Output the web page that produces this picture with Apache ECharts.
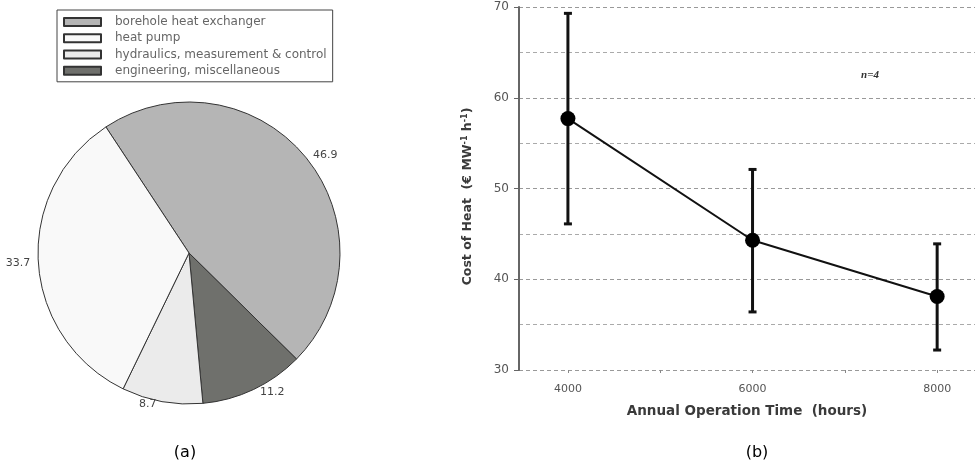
<!DOCTYPE html>
<html>
<head>
<meta charset="utf-8">
<script src="https://cdn.jsdelivr.net/npm/echarts@6/dist/echarts.min.js"></script>
<style>
  html, body { margin: 0; padding: 0; background: #fff; }
  #chart { width: 975px; height: 465px; }
</style>
</head>
<body>
<div id="chart"></div>
<script>
// (a) cost shares, %
const shareNames = ['borehole heat exchanger', 'engineering, miscellaneous', 'hydraulics, measurement & control', 'heat pump']
const shareValues = [46.9, 11.2, 8.7, 33.7]
const shareColors = ['#b5b5b5', '#6f706c', '#ebebeb', '#f9f9f9']
const legendOrder = ['borehole heat exchanger', 'heat pump', 'hydraulics, measurement & control', 'engineering, miscellaneous']

// (b) cost of heat vs. annual operation time
const hours = [4000, 6000, 8000]
const costMean = [57.7, 44.3, 38.1]
const costLow = [46.1, 36.4, 32.2]
const costHigh = [69.3, 52.1, 43.9]

const pieData = shareNames.map(function (n, i) {
  return { name: n, value: shareValues[i], itemStyle: { color: shareColors[i] } }
})
const lineData = hours.map(function (h, i) { return [h, costMean[i]] })
const errData = hours.map(function (h, i) { return [h, costLow[i], costHigh[i]] })

const font = '"DejaVu Sans", Arial, sans-serif'

const chart = echarts.init(document.getElementById('chart'))
chart.setOption({
  animation: false,
  textStyle: { fontFamily: font },
  legend: {
    data: legendOrder,
    orient: 'vertical',
    left: 57,
    top: 10,
    padding: [6, 6, 5, 6],
    borderColor: '#444',
    borderWidth: 1,
    itemWidth: 37,
    itemHeight: 8,
    itemGap: 4,
    icon: 'rect',
    selectedMode: false,
    textStyle: { fontSize: 12, color: '#666', lineHeight: 12.2, padding: [0, 0, 0, 9] }
  },
  grid: { left: 519, right: 0, top: 7, bottom: 95 },
  xAxis: {
    type: 'value',
    min: 3470,
    max: 8410,
    name: 'Annual Operation Time  (hours)',
    nameLocation: 'middle',
    nameGap: 34,
    nameTextStyle: { fontSize: 13.5, fontWeight: 'bold', color: '#3a3a3a' },
    axisLine: { show: false },
    axisTick: { show: true, length: 3, lineStyle: { color: '#888' } },
    splitLine: { show: false },
    axisLabel: {
      fontSize: 11, color: '#555', margin: 14, showMinLabel: false, showMaxLabel: false,
      formatter: function (v) { return v % 2000 === 0 ? String(v) : '' }
    }
  },
  yAxis: {
    type: 'value',
    min: 30,
    max: 70,
    interval: 10,
    name: 'Cost of Heat  (€ MW{sup|-1} h{sup|-1})',
    nameLocation: 'middle',
    nameGap: 44,
    nameTextStyle: {
      fontSize: 12.5, fontWeight: 'bold', color: '#3a3a3a', padding: [0, 16, 0, 0],
      rich: { sup: { fontSize: 8, fontWeight: 'bold', color: '#3a3a3a', verticalAlign: 'top', padding: [0, 0, 6, 0] } }
    },
    axisLine: { show: true, lineStyle: { color: '#666', width: 2 } },
    axisTick: { show: true, length: 5, lineStyle: { color: '#666' } },
    axisLabel: { fontSize: 12, color: '#555', margin: 10 },
    splitLine: { show: true, lineStyle: { color: '#999', type: [4, 3], width: 1 } },
    minorTick: { show: false, splitNumber: 2 },
    minorSplitLine: { show: true, lineStyle: { color: '#aaa', type: [4, 3], width: 1 } }
  },
  graphic: [
    { type: 'text', x: 185, y: 453, style: { text: '(a)', fontSize: 16, fill: '#000', fontFamily: font, align: 'center', verticalAlign: 'middle' } },
    { type: 'text', x: 757, y: 453, style: { text: '(b)', fontSize: 16, fill: '#000', fontFamily: font, align: 'center', verticalAlign: 'middle' } },
    { type: 'text', x: 870, y: 75, style: { text: 'n=4', fontSize: 11, fontStyle: 'italic', fontWeight: 'bold', fill: '#333', fontFamily: '"Liberation Serif", "DejaVu Serif", serif', align: 'center', verticalAlign: 'middle' } }
  ],
  series: [
    {
      type: 'pie',
      center: [189, 253],
      radius: 151,
      startAngle: 123.4,
      clockwise: true,
      data: pieData,
      itemStyle: { borderColor: '#333', borderWidth: 1 },
      label: { position: 'outside', fontSize: 11, color: '#444', formatter: '{c}', overflow: 'none' },
      labelLine: { show: false, length: 3, length2: 0 },
      emphasis: { disabled: true }
    },
    {
      type: 'custom',
      data: errData,
      z: 3,
      renderItem: function (params, api) {
        const lo = api.coord([api.value(0), api.value(1)])
        const hi = api.coord([api.value(0), api.value(2)])
        const cap = 4
        const st = { stroke: '#111', lineWidth: 3 }
        return {
          type: 'group',
          children: [
            { type: 'line', shape: { x1: lo[0], y1: lo[1], x2: hi[0], y2: hi[1] }, style: st },
            { type: 'line', shape: { x1: lo[0] - cap, y1: lo[1], x2: lo[0] + cap, y2: lo[1] }, style: st },
            { type: 'line', shape: { x1: hi[0] - cap, y1: hi[1], x2: hi[0] + cap, y2: hi[1] }, style: st }
          ]
        }
      }
    },
    {
      type: 'line',
      data: lineData,
      z: 4,
      symbol: 'circle',
      symbolSize: 15,
      itemStyle: { color: '#000' },
      lineStyle: { color: '#111', width: 2 }
    }
  ]
})
</script>
</body>
</html>
